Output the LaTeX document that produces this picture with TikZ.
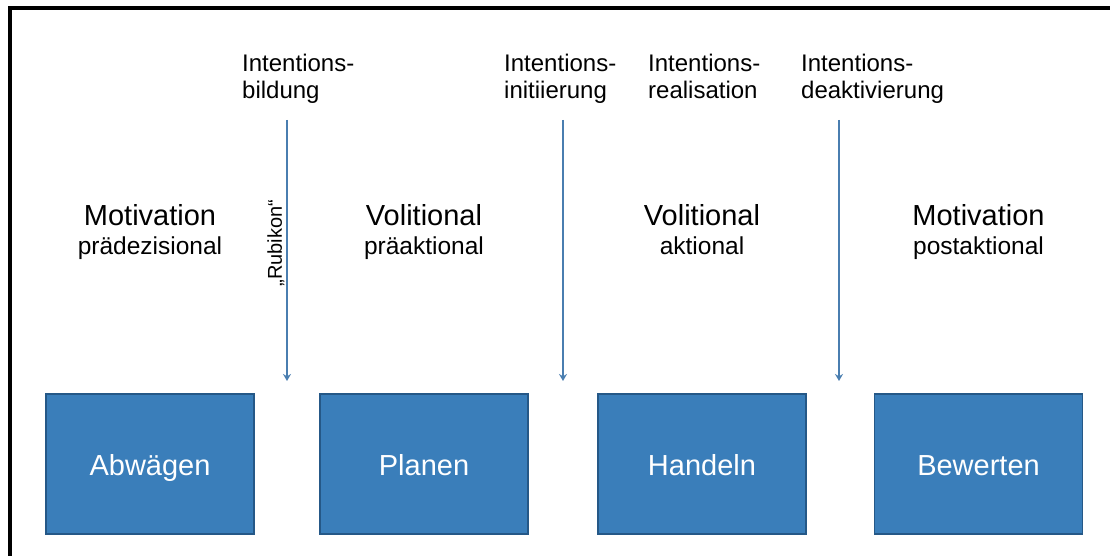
\documentclass[tikz,border=0pt]{standalone}
\usepackage{fontspec}
\setmainfont{Liberation Sans}
\usetikzlibrary{arrows.meta}
\definecolor{boxblue}{RGB}{58,126,186}
\definecolor{boxedge}{RGB}{37,88,135}
\definecolor{arrowblue}{RGB}{74,126,176}
\tikzset{
  phase/.style={draw=boxedge, line width=1.6pt, fill=boxblue, minimum width=208pt, minimum height=140pt, inner sep=0pt, text=white, text height=22pt, text depth=0pt, font=\fontsize{29}{31}\selectfont},
  toplabel/.style={anchor=north west, inner sep=0pt, align=left, font=\fontsize{24}{27}\selectfont},
  mainlabel/.style={anchor=north, inner sep=0pt, align=center, font=\fontsize{29}{29}\selectfont},
  transition/.style={draw=arrowblue, line width=1.4pt, -{Stealth[length=7pt,width=8pt]}},
  frameline/.style={line width=4pt, black}
}
\newcommand{\subl}[1]{{\fontsize{24.5}{29}\selectfont #1}}
\begin{document}
\begin{tikzpicture}[x=1pt,y=-1pt]
\useasboundingbox (0,0) rectangle (1110,556);
\draw[frameline] (10,560) -- (10,8) -- (1115,8);

\node[phase] (abw) at (150,464) {Abwägen};
\node[phase] (pla) at (424,464) {Planen};
\node[phase] (han) at (702,464) {Handeln};
\node[phase] (bew) at (978.5,464) {Bewerten};

\node[toplabel] (l1) at (242,54) {Intentions-\\bildung};
\node[toplabel] (l2) at (504,54) {Intentions-\\initiierung};
\node[toplabel] (l3) at (648,54) {Intentions-\\realisation};
\node[toplabel] (l4) at (801,54) {Intentions-\\deaktivierung};

\node[mainlabel] (m1) at (150,204) {Motivation\\\subl{prädezisional}};
\node[mainlabel] (m2) at (424,204) {Volitional\\\subl{präaktional}};
\node[mainlabel] (m3) at (702,204) {Volitional\\\subl{aktional}};
\node[mainlabel] (m4) at (978.5,204) {Motivation\\\subl{postaktional}};

\coordinate (a1s) at (287,120);
\coordinate (a1e) at (287,381);
\coordinate (a2s) at (563,120);
\coordinate (a2e) at (563,381);
\coordinate (a3s) at (839,120);
\coordinate (a3e) at (839,381);
\draw[transition] (a1s) -- (a1e);
\draw[transition] (a2s) -- (a2e);
\draw[transition] (a3s) -- (a3e);

\node[rotate=90, inner sep=0pt, font=\fontsize{20}{22}\selectfont] (rub) at (276,243) {„Rubikon“};
\end{tikzpicture}
\end{document}
